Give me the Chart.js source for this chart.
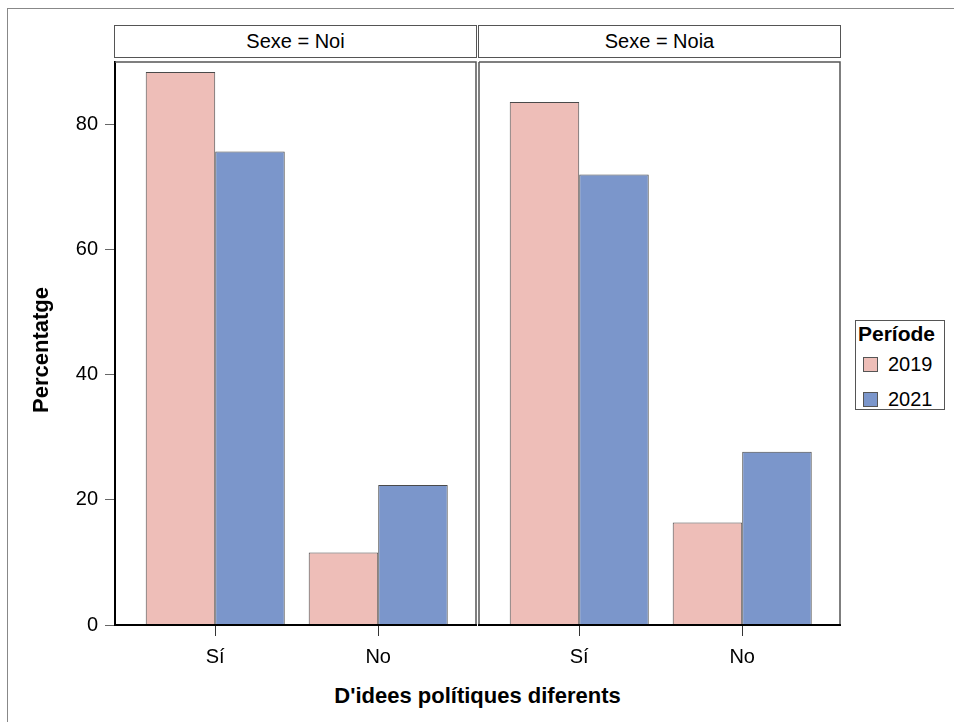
<!DOCTYPE html>
<html><head><meta charset="utf-8">
<script src="https://cdn.jsdelivr.net/npm/chart.js@4/dist/chart.umd.min.js"></script>
<style>
body{margin:0;background:#fff;}
#wrap{position:relative;width:954px;height:722px;overflow:hidden;background:#fff;font-family:"Liberation Sans",Arial,sans-serif;color:#000}
#frame{position:absolute;left:7px;top:8px;width:960px;height:730px;border-top:1px solid #888;border-left:1px solid #888}
.strip{position:absolute;top:25px;height:33px;border:1.5px solid #555;box-sizing:border-box;font-size:20px;line-height:31px;text-align:center;background:#fff}
canvas{position:absolute}
#ytitle{position:absolute;left:41px;top:350px;transform:translate(-50%,-50%) rotate(-90deg);font-weight:bold;font-size:22px;white-space:nowrap}
#xtitle{position:absolute;left:115px;width:725px;top:683px;text-align:center;font-weight:bold;font-size:22px;white-space:nowrap}
#legend{position:absolute;left:855px;top:320px;width:90px;height:90px;border:1.5px solid #555;box-sizing:border-box;font-size:20px}
#legend .lt{font-weight:bold;position:absolute;left:2px;top:1px;font-size:21px}
#legend .it{position:absolute;left:7px;height:24px;line-height:24px;white-space:nowrap}
#legend .sw{display:inline-block;width:13px;height:13px;border:1px solid #555;vertical-align:-1px;margin-right:10px}
</style></head><body>
<div id="wrap">
 <div id="frame"></div>
 <div class="strip" id="s1" style="left:114px;width:363px"></div>
 <div class="strip" id="s2" style="left:478px;width:363px"></div>
 <canvas id="c1" width="477" height="616" style="left:0;top:57px"></canvas>
 <canvas id="c2" width="363" height="616" style="left:478px;top:57px"></canvas>
 <div id="ytitle">Percentatge</div>
 <div id="xtitle">D'idees polítiques diferents</div>
 <div id="legend"></div>
</div>
<script>
const categories = ['Sí', 'No'];
const panels = ['Sexe = Noi', 'Sexe = Noia'];
const periods = ['2019', '2021'];
const periodColors = ['#EEBEB8', '#7B96CB'];
const noi2019 = [88.4, 11.6];
const noi2021 = [75.7, 22.4];
const noia2019 = [83.6, 16.4];
const noia2021 = [72.0, 27.7];
const yTicks = [0, 20, 40, 60, 80];
const FONT = '"Liberation Sans", Arial, sans-serif';

document.getElementById('s1').textContent = panels[0];
document.getElementById('s2').textContent = panels[1];
const lg = document.getElementById('legend');
lg.innerHTML = '<div class="lt">Període</div>' + periods.map((p, i) =>
  '<div class="it" style="top:' + (31 + i * 35) + 'px"><span class="sw" style="background:' + periodColors[i] + '"></span>' + p + '</div>').join('');

const framePlugin = {
  id: 'frame',
  afterDraw(chart) {
    const a = chart.chartArea, ctx = chart.ctx;
    const showY = chart.options.scales.y.display;
    ctx.save();
    ctx.strokeStyle = '#555'; ctx.lineWidth = 1.5;
    ctx.beginPath();
    ctx.moveTo(a.left, a.top); ctx.lineTo(a.right, a.top); ctx.lineTo(a.right, a.bottom);
    if (!showY) { ctx.moveTo(a.left, a.top); ctx.lineTo(a.left, a.bottom); }
    ctx.stroke();
    ctx.strokeStyle = '#000'; ctx.lineWidth = 2;
    ctx.beginPath(); ctx.moveTo(a.left - (showY ? 1 : 0.75), a.bottom); ctx.lineTo(a.right + 0.75, a.bottom); ctx.stroke();
    ctx.restore();
  }
};

function noPad(s) { s.paddingTop = 0; s.paddingBottom = 0; s.paddingLeft = 0; s.paddingRight = 0; }

function makeChart(id, s2019, s2021, showY) {
  const toPts = arr => arr.map((v, i) => ({x: i, y: v}));
  return new Chart(document.getElementById(id), {
    type: 'bar',
    data: {
      datasets: [
        {label: periods[0], data: toPts(s2019), backgroundColor: periodColors[0], borderColor: '#4a4a4a', borderWidth: 1},
        {label: periods[1], data: toPts(s2021), backgroundColor: periodColors[1], borderColor: '#4a4a4a', borderWidth: 1}
      ]
    },
    options: {
      responsive: false, animation: false,
      layout: {padding: {top: 5, left: showY ? 0 : 1, right: 1, bottom: 0}},
      datasets: {bar: {barPercentage: 1.0, categoryPercentage: 0.853, grouped: true}},
      plugins: {legend: {display: false}, tooltip: {enabled: false}},
      scales: {
        x: {
          type: 'linear', min: -0.615, max: 1.6, offset: false,
          afterBuildTicks: s => { s.ticks = categories.map((c, i) => ({value: i})); },
          afterFit: s => { s.height = 48; noPad(s); },
          grid: {offset: false, drawOnChartArea: false, tickLength: 11, tickColor: '#333', tickWidth: 1},
          border: {color: '#000', width: 2},
          ticks: {callback: v => categories[v], font: {size: 20, family: FONT}, color: '#000', padding: 9, maxRotation: 0, autoSkip: false}
        },
        y: {
          display: showY,
          type: 'linear', min: 0, max: 90,
          afterBuildTicks: s => { s.ticks = yTicks.map(v => ({value: v})); },
          afterFit: s => { s.width = showY ? 115 : 0; noPad(s); },
          grid: {drawOnChartArea: false, tickLength: 10, tickColor: '#666', tickWidth: 1},
          border: {color: '#000', width: 2},
          ticks: {font: {size: 20, family: FONT}, color: '#000', padding: 7}
        }
      }
    },
    plugins: [framePlugin]
  });
}
makeChart('c1', noi2019, noi2021, true);
makeChart('c2', noia2019, noia2021, false);
</script>
</body></html>
